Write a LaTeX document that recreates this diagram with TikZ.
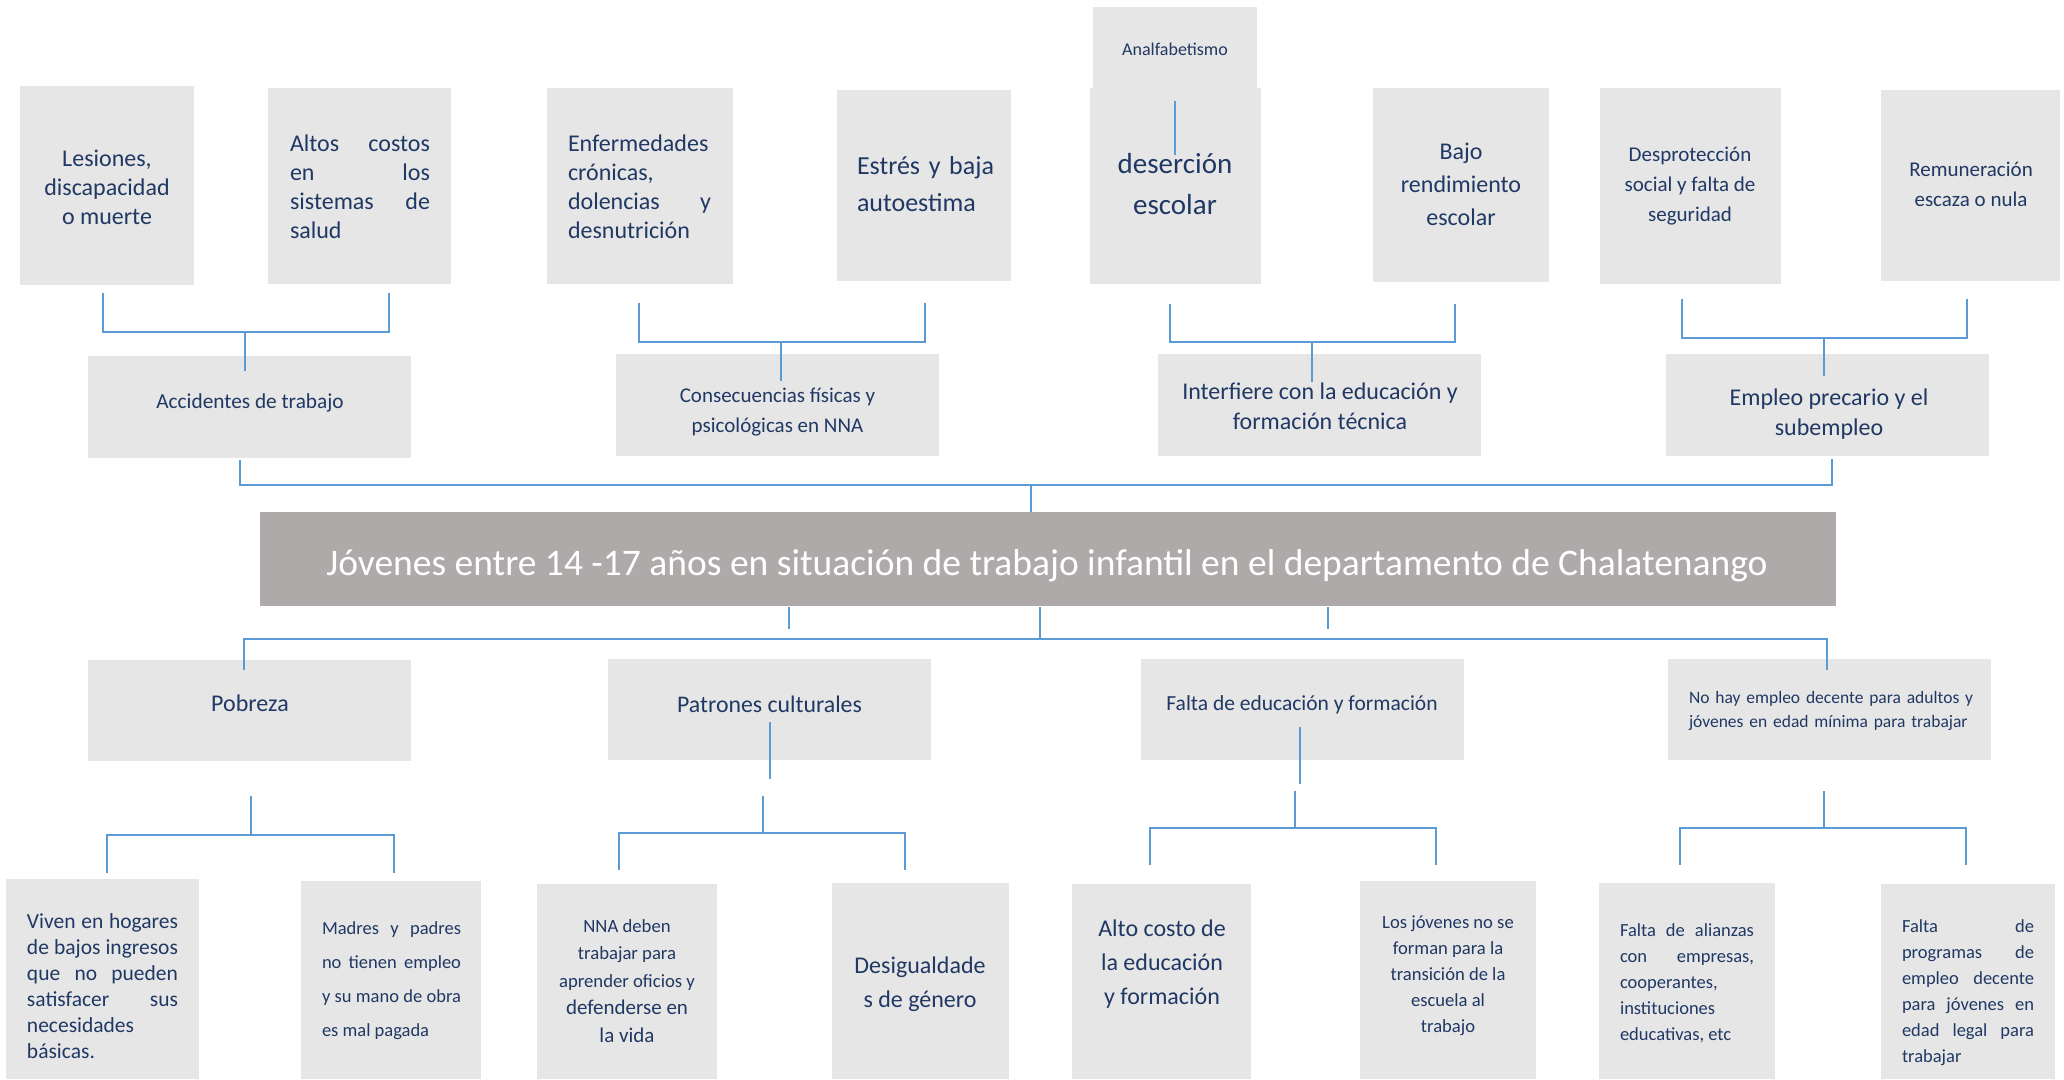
\documentclass[tikz,border=0pt]{standalone}
\usepackage{fontspec}
\setmainfont{Carlito}
\hyphenpenalty=10000
\tolerance=10000
\definecolor{gris}{HTML}{E7E6E6}
\definecolor{grisosc}{HTML}{AEAAAA}
\definecolor{azul}{HTML}{5B9BD5}
\definecolor{azultxt}{HTML}{1F3864}

\begin{document}
\begin{tikzpicture}[x=1pt, y=-1pt]

    % Estilos
    \tikzstyle{caja} = [rectangle, fill=gris, inner sep=0pt]
    \tikzstyle{central} = [rectangle, fill=grisosc, inner sep=0pt]
    \tikzstyle{texto} = [text=azultxt, inner sep=0pt, align=center]
    \tikzstyle{linea} = [draw=azul, line width=2pt]

    \useasboundingbox (0,0) rectangle (2064,1079);

    % Cajas de arriba
    \node (ana) [caja, minimum width=164pt, minimum height=81pt] at (1175,47.5) {};
    \node (les) [caja, minimum width=174pt, minimum height=199pt] at (107,185.5) {};
    \node (alt) [caja, minimum width=183pt, minimum height=196pt] at (359.5,186) {};
    \node (enf) [caja, minimum width=186pt, minimum height=196pt] at (640,186) {};
    \node (est) [caja, minimum width=174pt, minimum height=191pt] at (924,185.5) {};
    \node (des) [caja, minimum width=171pt, minimum height=196pt] at (1175.5,186) {};
    \node (baj) [caja, minimum width=176pt, minimum height=194pt] at (1461,185) {};
    \node (dpr) [caja, minimum width=181pt, minimum height=196pt] at (1690.5,186) {};
    \node (rem) [caja, minimum width=179pt, minimum height=191pt] at (1970.5,185.5) {};
    \node (acc) [caja, minimum width=323pt, minimum height=102pt] at (249.5,407) {};
    \node (con) [caja, minimum width=323pt, minimum height=102pt] at (777.5,405) {};
    \node (int) [caja, minimum width=323pt, minimum height=102pt] at (1319.5,405) {};
    \node (emp) [caja, minimum width=323pt, minimum height=102pt] at (1827.5,405) {};

    % Caja central
    \node (cen) [central, minimum width=1576pt, minimum height=94pt] at (1048,559) {};

    % Cajas de abajo
    \node (pob) [caja, minimum width=323pt, minimum height=101pt] at (249.5,710.5) {};
    \node (pat) [caja, minimum width=323pt, minimum height=101pt] at (769.5,709.5) {};
    \node (fal) [caja, minimum width=323pt, minimum height=101pt] at (1302.5,709.5) {};
    \node (noh) [caja, minimum width=323pt, minimum height=101pt] at (1829.5,709.5) {};
    \node (viv) [caja, minimum width=193pt, minimum height=200pt] at (102.5,979) {};
    \node (mad) [caja, minimum width=180pt, minimum height=198pt] at (391,980) {};
    \node (nna) [caja, minimum width=180pt, minimum height=195pt] at (627,981.5) {};
    \node (dsg) [caja, minimum width=177pt, minimum height=196pt] at (920.5,981) {};
    \node (alc) [caja, minimum width=179pt, minimum height=195pt] at (1161.5,981.5) {};
    \node (ljv) [caja, minimum width=176pt, minimum height=198pt] at (1448,980) {};
    \node (ali) [caja, minimum width=176pt, minimum height=196pt] at (1687,981) {};
    \node (pro) [caja, minimum width=174pt, minimum height=195pt] at (1968,981.5) {};

    % Textos
    \node (ana-t) [texto, font=\fontsize{18}{22}\selectfont] at (1175,49) {Analfabetismo};
    \node (les-t) [texto, font=\fontsize{24}{29}\selectfont] at (107,187) {Lesiones,\\ discapacidad\\ o muerte};
    \node (alt-t) [texto, text width=140pt, align=justify, font=\fontsize{24}{29}\selectfont] at (360,187) {Altos costos\linebreak en los\linebreak sistemas de\linebreak salud};
    \node (enf-t) [texto, text width=143pt, align=justify, font=\fontsize{24}{29}\selectfont] at (639.5,187) {Enfermedades\linebreak crónicas,\linebreak dolencias y\linebreak desnutrición};
    \node (est-t) [texto, text width=160pt, align=left, font=\fontsize{26}{37}\selectfont] at (937,184.5) {Estrés y baja\\ autoestima};
    \node (des-t) [texto, font=\fontsize{29}{41}\selectfont] at (1175,184.5) {deserción\\ escolar};
    \node (baj-t) [texto, font=\fontsize{24}{33}\selectfont] at (1461,184) {Bajo\\ rendimiento\\ escolar};
    \node (dpr-t) [texto, font=\fontsize{21}{30}\selectfont] at (1690,186) {Desprotección\\ social y falta de\\ seguridad};
    \node (rem-t) [texto, font=\fontsize{21}{30}\selectfont] at (1971,184) {Remuneración\\ escaza o nula};
    \node (acc-t) [texto, font=\fontsize{21.3}{30}\selectfont] at (250,403) {Accidentes de trabajo};
    \node (con-t) [texto, font=\fontsize{21}{30}\selectfont] at (777.5,412) {Consecuencias físicas y\\ psicológicas en NNA};
    \node (int-t) [texto, font=\fontsize{24}{30}\selectfont] at (1320,406) {Interfiere con la educación y\\ formación técnica};
    \node (emp-t) [texto, font=\fontsize{24}{30}\selectfont] at (1829,414) {Empleo precario y el\\ subempleo};
    \node (cen-t) [texto, text=white, font=\fontsize{37.5}{44}\selectfont] at (1047,566) {Jóvenes entre 14 -17 años en situación de trabajo infantil en el departamento de Chalatenango};
    \node (pob-t) [texto, font=\fontsize{24}{29}\selectfont] at (250,703) {Pobreza};
    \node (pat-t) [texto, font=\fontsize{23.8}{29}\selectfont] at (769.5,704) {Patrones culturales};
    \node (fal-t) [texto, font=\fontsize{21.5}{29}\selectfont] at (1302,705) {Falta de educación y formación};
    \node (noh-t) [texto, text width=320pt, align=left, font=\fontsize{17.5}{24}\selectfont] at (1849,711) {No hay empleo decente para adultos y\\ jóvenes en edad mínima para trabajar};
    \node (viv-t) [texto, text width=151pt, align=justify, font=\fontsize{21.5}{26}\selectfont] at (102.5,986) {Viven en hogares\linebreak de bajos ingresos\linebreak que no pueden\linebreak satisfacer sus\linebreak necesidades\linebreak básicas.};
    \node (mad-t) [texto, text width=139pt, align=justify, font=\fontsize{18.5}{34}\selectfont] at (391.5,980.5) {Madres y padres\linebreak no tienen empleo\linebreak y su mano de obra\linebreak es mal pagada};
    \node (nna-t) [texto, font=\fontsize{18.7}{27.5}\selectfont] at (627,981) {NNA deben\\ trabajar para\\ aprender oficios y\\ {\fontsize{21}{27.5}\selectfont defenderse en}\\ {\fontsize{21}{27.5}\selectfont la vida}};
    \node (dsg-t) [texto, font=\fontsize{24}{34}\selectfont] at (920,984) {Desigualdade\\ s de género};
    \node (alc-t) [texto, font=\fontsize{24}{34}\selectfont] at (1162,964.5) {Alto costo de\\ la educación\\ y formación};
    \node (ljv-t) [texto, font=\fontsize{18.6}{26}\selectfont] at (1448,976) {Los jóvenes no se\\ forman para la\\ transición de la\\ escuela al\\ trabajo};
    \node (ali-t) [texto, text width=134pt, align=justify, font=\fontsize{18.5}{26}\selectfont] at (1687,983.5) {Falta de alianzas\linebreak con empresas,\linebreak cooperantes,\linebreak instituciones\linebreak educativas, etc};
    \node (pro-t) [texto, text width=132pt, align=justify, font=\fontsize{18.5}{26}\selectfont] at (1968,993) {Falta de\linebreak programas de\linebreak empleo decente\linebreak para jóvenes en\linebreak edad legal para\linebreak trabajar};

    % Puntos de las lineas
    \coordinate (ana-l) at (1175,101);
    \coordinate (les-a) at (103,293);
    \coordinate (alt-a) at (389,293);
    \coordinate (acc-a) at (245,371);
    \coordinate (enf-a) at (639,303);
    \coordinate (est-a) at (925,303);
    \coordinate (con-a) at (781,381);
    \coordinate (des-a) at (1170,304);
    \coordinate (baj-a) at (1455,304);
    \coordinate (int-a) at (1312,382);
    \coordinate (dpr-a) at (1682,299);
    \coordinate (rem-a) at (1967,299);
    \coordinate (emp-a) at (1824,376);
    \coordinate (acc-b) at (240,460);
    \coordinate (emp-b) at (1832,459);
    \coordinate (cen-a) at (1031,512);
    \coordinate (cen-b) at (1040,607);
    \coordinate (cen-b1) at (789,607);
    \coordinate (cen-b2) at (1328,607);
    \coordinate (pob-a) at (244,670);
    \coordinate (noh-a) at (1827,670);
    \coordinate (pat-i) at (770,722);
    \coordinate (fal-i) at (1300,727);
    \coordinate (pob-b) at (251,796);
    \coordinate (viv-a) at (107,873);
    \coordinate (mad-a) at (394,873);
    \coordinate (pat-b) at (763,796);
    \coordinate (nna-a) at (619,870);
    \coordinate (dsg-a) at (905,870);
    \coordinate (fal-b) at (1295,791);
    \coordinate (alc-a) at (1150,865);
    \coordinate (ljv-a) at (1436,865);
    \coordinate (noh-b) at (1824,791);
    \coordinate (ali-a) at (1680,865);
    \coordinate (pro-a) at (1966,865);

    % Lineas de arriba
    \draw [linea] (ana-l) -- ++(0,54);
    \draw [linea] (les-a) -- ++(0,39) -| (alt-a);
    \draw [linea] (acc-a) -- ++(0,-39);
    \draw [linea] (enf-a) -- ++(0,39) -| (est-a);
    \draw [linea] (con-a) -- ++(0,-39);
    \draw [linea] (des-a) -- ++(0,38) -| (baj-a);
    \draw [linea] (int-a) -- ++(0,-40);
    \draw [linea] (dpr-a) -- ++(0,39) -| (rem-a);
    \draw [linea] (emp-a) -- ++(0,-38);
    \draw [linea] (acc-b) -- ++(0,25) -| (emp-b);
    \draw [linea] (cen-a) -- ++(0,-27);

    % Lineas de abajo
    \draw [linea] (cen-b) -- ++(0,32);
    \draw [linea] (cen-b1) -- ++(0,22);
    \draw [linea] (cen-b2) -- ++(0,22);
    \draw [linea] (pob-a) -- ++(0,-31) -| (noh-a);
    \draw [linea] (pat-i) -- ++(0,57);
    \draw [linea] (fal-i) -- ++(0,57);
    \draw [linea] (pob-b) -- ++(0,39);
    \draw [linea] (viv-a) -- ++(0,-38) -| (mad-a);
    \draw [linea] (pat-b) -- ++(0,37);
    \draw [linea] (nna-a) -- ++(0,-37) -| (dsg-a);
    \draw [linea] (fal-b) -- ++(0,37);
    \draw [linea] (alc-a) -- ++(0,-37) -| (ljv-a);
    \draw [linea] (noh-b) -- ++(0,37);
    \draw [linea] (ali-a) -- ++(0,-37) -| (pro-a);

\end{tikzpicture}
\end{document}
